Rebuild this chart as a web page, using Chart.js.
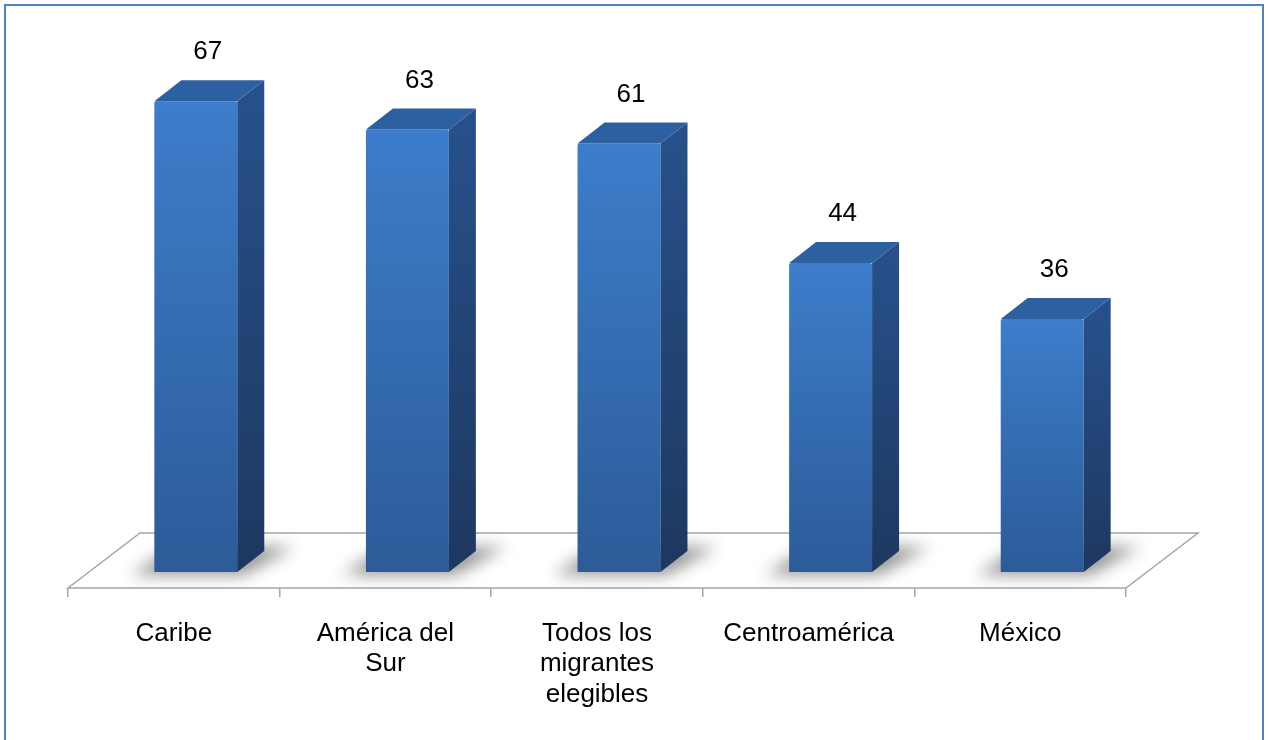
<!DOCTYPE html>
<html>
<head>
<meta charset="utf-8">
<script src="https://cdn.jsdelivr.net/npm/chart.js@4/dist/chart.umd.min.js"></script>
<style>
  html, body { margin: 0; padding: 0; background: #fff; }
  #wrap { position: relative; width: 1269px; height: 740px; }
</style>
</head>
<body>
<div id="wrap"><canvas id="chart" width="1269" height="740"></canvas></div>
<script>
// categories and values
const regions = [
  ['Caribe'],
  ['América del', 'Sur'],
  ['Todos los', 'migrantes', 'elegibles'],
  ['Centroamérica'],
  ['México']
];
const shares = [67, 63, 61, 44, 36];

// 3D look: floor depth and bar depth (pixels)
const FLOOR_DX = 72, FLOOR_DY = -55;
const BAR_SHIFT_X = 22, BAR_SHIFT_Y = -16;
const BAR_DX = 27, BAR_DY = -21;

// fake 3D: floor, shadows, side and top faces around Chart.js bars
const bar3d = {
  id: 'bar3d',
  beforeDatasetsDraw(chart) {
    const { ctx, chartArea: a } = chart;
    const meta = chart.getDatasetMeta(0);

    // floor
    ctx.save();
    ctx.beginPath();
    ctx.moveTo(a.left, a.bottom);
    ctx.lineTo(a.right, a.bottom);
    ctx.lineTo(a.right + FLOOR_DX, a.bottom + FLOOR_DY);
    ctx.lineTo(a.left + FLOOR_DX, a.bottom + FLOOR_DY);
    ctx.closePath();
    ctx.fillStyle = '#ffffff';
    ctx.fill();
    ctx.strokeStyle = '#a6a6a6';
    ctx.lineWidth = 1.5;
    ctx.stroke();

    // soft shadows on the floor
    ctx.filter = 'blur(8px)';
    ctx.fillStyle = 'rgba(0,0,0,0.42)';
    meta.data.forEach(el => {
      const l = el.x - el.width / 2 + BAR_SHIFT_X;
      const r = el.x + el.width / 2 + BAR_SHIFT_X;
      const b = el.base + BAR_SHIFT_Y;
      ctx.beginPath();
      ctx.moveTo(l - 24, b + 3);
      ctx.lineTo(r + 6, b + 3);
      ctx.lineTo(r + BAR_DX + 30, b + BAR_DY - 4);
      ctx.lineTo(l + BAR_DX - 6, b + BAR_DY - 4);
      ctx.closePath();
      ctx.fill();
    });
    ctx.restore();

    // bars are drawn pushed back into the floor
    ctx.save();
    ctx.translate(BAR_SHIFT_X, BAR_SHIFT_Y);
  },
  afterDatasetsDraw(chart) {
    const { ctx } = chart;
    const meta = chart.getDatasetMeta(0);
    meta.data.forEach(el => {
      const l = el.x - el.width / 2;
      const r = el.x + el.width / 2;
      const t = el.y, b = el.base;

      // side face
      let g = ctx.createLinearGradient(0, t, 0, b);
      g.addColorStop(0, '#27508a');
      g.addColorStop(1, '#1d3860');
      ctx.beginPath();
      ctx.moveTo(r, t);
      ctx.lineTo(r + BAR_DX, t + BAR_DY);
      ctx.lineTo(r + BAR_DX, b + BAR_DY);
      ctx.lineTo(r, b);
      ctx.closePath();
      ctx.fillStyle = g;
      ctx.fill();

      // top face
      ctx.beginPath();
      ctx.moveTo(l, t);
      ctx.lineTo(l + BAR_DX, t + BAR_DY);
      ctx.lineTo(r + BAR_DX, t + BAR_DY);
      ctx.lineTo(r, t);
      ctx.closePath();
      ctx.fillStyle = '#2d60a1';
      ctx.fill();
    });
    ctx.restore();

    // value labels above each bar
    ctx.save();
    ctx.font = '26px "Liberation Sans", Arial, sans-serif';
    ctx.fillStyle = '#000';
    ctx.textAlign = 'center';
    ctx.textBaseline = 'middle';
    meta.data.forEach((el, i) => {
      const x = el.x + BAR_SHIFT_X + 12;
      const y = el.y + BAR_SHIFT_Y + BAR_DY - 28;
      ctx.fillText(String(shares[i]), x, y);
    });
    ctx.restore();
  },
  afterDraw(chart) {
    // outer frame
    const { ctx } = chart;
    ctx.save();
    ctx.strokeStyle = '#4f82c0';
    ctx.lineWidth = 2;
    ctx.strokeRect(5, 5, 1258, 800);
    ctx.restore();
  }
};

function frontFill(c) {
  const chart = c.chart;
  if (!chart.chartArea || !chart.scales.y) return '#3a74bf';
  const y = chart.scales.y;
  const top = y.getPixelForValue(c.raw);
  const bottom = y.getPixelForValue(0);
  const g = chart.ctx.createLinearGradient(0, top, 0, bottom);
  g.addColorStop(0, '#3d7dcb');
  g.addColorStop(1, '#2c5b98');
  return g;
}

new Chart(document.getElementById('chart'), {
  type: 'bar',
  data: {
    labels: regions,
    datasets: [{
      data: shares,
      backgroundColor: frontFill,
      borderWidth: 0,
      borderRadius: 2,
      categoryPercentage: 1,
      barPercentage: 0.392,
      clip: false
    }]
  },
  options: {
    responsive: false,
    animation: false,
    layout: { padding: { left: 68, right: 143, top: 26, bottom: 0 } },
    plugins: { legend: { display: false }, tooltip: { enabled: false } },
    scales: {
      x: {
        afterFit: scale => { scale.height = 152; },
        border: { display: false },
        grid: {
          offset: true,
          drawOnChartArea: false,
          drawTicks: true,
          tickLength: 9,
          color: '#a6a6a6',
          lineWidth: 1.5
        },
        ticks: {
          color: '#000',
          padding: 21,
          maxRotation: 0,
          autoSkip: false,
          font: { family: '"Liberation Sans", Arial, sans-serif', size: 26, lineHeight: 1.18 }
        }
      },
      y: {
        display: false,
        min: 0,
        max: 80
      }
    }
  },
  plugins: [bar3d]
});
</script>
</body>
</html>
